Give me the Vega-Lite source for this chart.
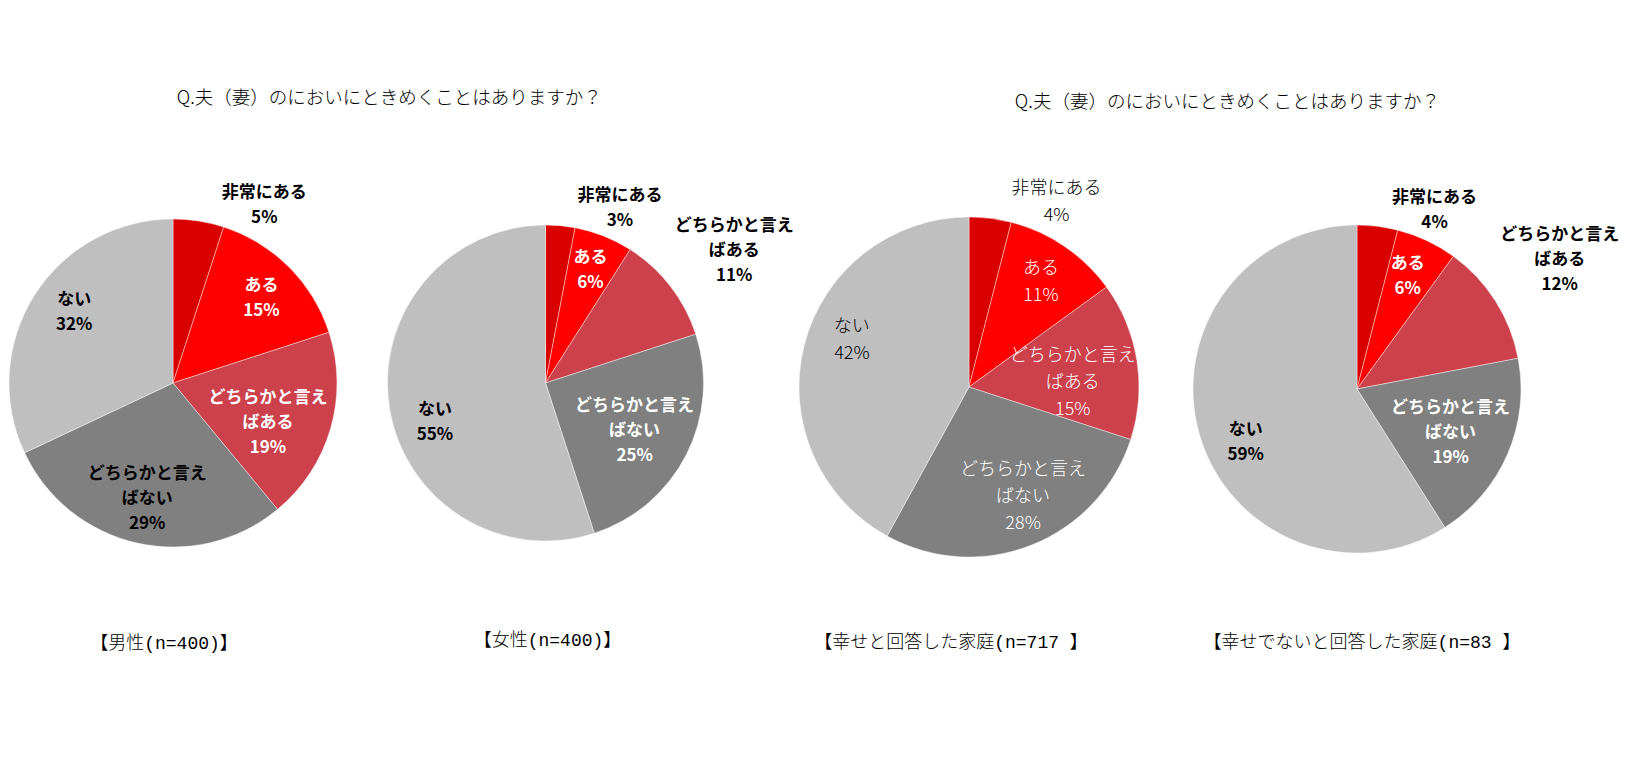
{
  "$schema": "https://vega.github.io/schema/vega-lite/v6.json",
  "padding": {"left": 3, "top": 89, "right": 0, "bottom": 0},
  "background": "#ffffff",
  "config": {
    "view": {"stroke": null},
    "font": "Noto Sans CJK JP",
    "title": {"font": "Noto Sans CJK JP", "fontWeight": 300, "color": "#000000"},
    "text": {"font": "Noto Sans CJK JP"}
  },
  "datasets": {
    "d": [
      {"g": "男性", "c": "非常にある", "k": 1, "v": 5},
      {"g": "男性", "c": "ある", "k": 2, "v": 15},
      {"g": "男性", "c": "どちらかと言えばある", "k": 3, "v": 19},
      {"g": "男性", "c": "どちらかと言えばない", "k": 4, "v": 29},
      {"g": "男性", "c": "ない", "k": 5, "v": 32},
      {"g": "女性", "c": "非常にある", "k": 1, "v": 3},
      {"g": "女性", "c": "ある", "k": 2, "v": 6},
      {"g": "女性", "c": "どちらかと言えばある", "k": 3, "v": 11},
      {"g": "女性", "c": "どちらかと言えばない", "k": 4, "v": 25},
      {"g": "女性", "c": "ない", "k": 5, "v": 55},
      {"g": "幸せ", "c": "非常にある", "k": 1, "v": 4},
      {"g": "幸せ", "c": "ある", "k": 2, "v": 11},
      {"g": "幸せ", "c": "どちらかと言えばある", "k": 3, "v": 15},
      {"g": "幸せ", "c": "どちらかと言えばない", "k": 4, "v": 28},
      {"g": "幸せ", "c": "ない", "k": 5, "v": 42},
      {"g": "幸せでない", "c": "非常にある", "k": 1, "v": 4},
      {"g": "幸せでない", "c": "ある", "k": 2, "v": 6},
      {"g": "幸せでない", "c": "どちらかと言えばある", "k": 3, "v": 12},
      {"g": "幸せでない", "c": "どちらかと言えばない", "k": 4, "v": 19},
      {"g": "幸せでない", "c": "ない", "k": 5, "v": 59}
    ]
  },
  "bounds": "full",
  "spacing": 3,
  "hconcat": [
    {
      "title": {"text": "Q.夫（妻）のにおいにときめくことはありますか？", "fontSize": 18.5, "anchor": "middle", "dx": -9, "offset": 26},
      "bounds": "flush",
      "spacing": 32.5,
      "hconcat": [
        {
          "width": 340, "height": 340,
          "data": {"name": "d"},
          "transform": [
            {"filter": "datum.g == '男性'"},
            {"calculate": "replace(datum.c, 'どちらかと言え', 'どちらかと言え\\n') + '\\n' + datum.v + '%'", "as": "lab"}
          ],
          "title": {"text": "【男性(n=400)】", "orient": "bottom", "offset": 78.5, "dx": -9, "fontSize": 18, "font": "Liberation Mono, Noto Sans CJK JP", "anchor": "middle"},
          "encoding": {
            "theta": {"field": "v", "type": "quantitative", "stack": true},
            "order": {"field": "k", "type": "quantitative"},
            "detail": {"field": "c", "type": "nominal"}
          },
          "layer": [
            {"mark": {"type": "arc", "outerRadius": 164, "stroke": "#ffffff", "strokeWidth": 0.7, "strokeOpacity": 0.6},
             "encoding": {"color": {"field": "c", "type": "nominal", "legend": null, "scale": {"domain": ["非常にある", "ある", "どちらかと言えばある", "どちらかと言えばない", "ない"], "range": ["#D90000", "#FF0000", "#CC414B", "#808080", "#BFBFBF"]}}}},
            {"mark": {"type": "text", "radius": 181, "dx": 63, "dy": -11, "fontSize": 17, "fontWeight": "bold", "lineBreak": "\n", "lineHeight": 25, "baseline": "middle", "align": "center", "color": "#000000"},
             "encoding": {"text": {"condition": {"test": "datum.c == '非常にある'", "field": "lab", "type": "nominal"}, "value": ""}}},
            {"mark": {"type": "text", "radius": 125, "dy": -9, "fontSize": 17, "fontWeight": "bold", "lineBreak": "\n", "lineHeight": 25, "baseline": "middle", "align": "center", "color": "#ffffff"},
             "encoding": {"text": {"condition": {"test": "datum.c == 'ある'", "field": "lab", "type": "nominal"}, "value": ""}}},
            {"mark": {"type": "text", "radius": 100, "dx": -1, "dy": -13, "fontSize": 17, "fontWeight": "bold", "lineBreak": "\n", "lineHeight": 25, "baseline": "middle", "align": "center", "color": "#ffffff"},
             "encoding": {"text": {"condition": {"test": "datum.c == 'どちらかと言えばある'", "field": "lab", "type": "nominal"}, "value": ""}}},
            {"mark": {"type": "text", "radius": 118, "dy": -24, "fontSize": 17, "fontWeight": "bold", "lineBreak": "\n", "lineHeight": 25, "baseline": "middle", "align": "center", "color": "#000000"},
             "encoding": {"text": {"condition": {"test": "datum.c == 'どちらかと言えばない'", "field": "lab", "type": "nominal"}, "value": ""}}},
            {"mark": {"type": "text", "radius": 123, "dx": 5, "dy": -17, "fontSize": 17, "fontWeight": "bold", "lineBreak": "\n", "lineHeight": 25, "baseline": "middle", "align": "center", "color": "#000000"},
             "encoding": {"text": {"condition": {"test": "datum.c == 'ない'", "field": "lab", "type": "nominal"}, "value": ""}}}
          ]
        },
        {
          "width": 340, "height": 340,
          "data": {"name": "d"},
          "transform": [
            {"filter": "datum.g == '女性'"},
            {"calculate": "replace(datum.c, 'どちらかと言え', 'どちらかと言え\\n') + '\\n' + datum.v + '%'", "as": "lab"}
          ],
          "title": {"text": "【女性(n=400)】", "orient": "bottom", "offset": 78.5, "dx": 2, "fontSize": 18, "font": "Liberation Mono, Noto Sans CJK JP", "anchor": "middle"},
          "encoding": {
            "theta": {"field": "v", "type": "quantitative", "stack": true},
            "order": {"field": "k", "type": "quantitative"},
            "detail": {"field": "c", "type": "nominal"}
          },
          "layer": [
            {"mark": {"type": "arc", "outerRadius": 158, "stroke": "#ffffff", "strokeWidth": 0.7, "strokeOpacity": 0.6},
             "encoding": {"color": {"field": "c", "type": "nominal", "legend": null, "scale": {"domain": ["非常にある", "ある", "どちらかと言えばある", "どちらかと言えばない", "ない"], "range": ["#D90000", "#FF0000", "#CC414B", "#808080", "#BFBFBF"]}}}},
            {"mark": {"type": "text", "radius": 175, "dx": 58, "dy": -12.5, "fontSize": 17, "fontWeight": "bold", "lineBreak": "\n", "lineHeight": 25, "baseline": "middle", "align": "center", "color": "#000000"},
             "encoding": {"text": {"condition": {"test": "datum.c == '非常にある'", "field": "lab", "type": "nominal"}, "value": ""}}},
            {"mark": {"type": "text", "radius": 122, "dy": -11.5, "fontSize": 17, "fontWeight": "bold", "lineBreak": "\n", "lineHeight": 25, "baseline": "middle", "align": "center", "color": "#ffffff"},
             "encoding": {"text": {"condition": {"test": "datum.c == 'ある'", "field": "lab", "type": "nominal"}, "value": ""}}},
            {"mark": {"type": "text", "radius": 216, "dx": 18, "dy": -25, "fontSize": 17, "fontWeight": "bold", "lineBreak": "\n", "lineHeight": 25, "baseline": "middle", "align": "center", "color": "#000000"},
             "encoding": {"text": {"condition": {"test": "datum.c == 'どちらかと言えばある'", "field": "lab", "type": "nominal"}, "value": ""}}},
            {"mark": {"type": "text", "radius": 100, "dy": -22, "fontSize": 17, "fontWeight": "bold", "lineBreak": "\n", "lineHeight": 25, "baseline": "middle", "align": "center", "color": "#ffffff"},
             "encoding": {"text": {"condition": {"test": "datum.c == 'どちらかと言えばない'", "field": "lab", "type": "nominal"}, "value": ""}}},
            {"mark": {"type": "text", "radius": 112, "dy": 9.5, "fontSize": 17, "fontWeight": "bold", "lineBreak": "\n", "lineHeight": 25, "baseline": "middle", "align": "center", "color": "#000000"},
             "encoding": {"text": {"condition": {"test": "datum.c == 'ない'", "field": "lab", "type": "nominal"}, "value": ""}}}
          ]
        }
      ]
    },
    {
      "title": {"text": "Q.夫（妻）のにおいにときめくことはありますか？", "fontSize": 18.5, "anchor": "middle", "dx": 19, "offset": 5},
      "bounds": "flush",
      "spacing": 48,
      "hconcat": [
        {
          "width": 340, "height": 348,
          "data": {"name": "d"},
          "transform": [
            {"filter": "datum.g == '幸せ'"},
            {"calculate": "replace(datum.c, 'どちらかと言え', 'どちらかと言え\\n') + '\\n' + datum.v + '%'", "as": "lab"}
          ],
          "title": {"text": "【幸せと回答した家庭(n=717 】", "orient": "bottom", "offset": 73, "dx": -18, "fontSize": 18, "font": "Liberation Mono, Noto Sans CJK JP", "anchor": "middle"},
          "encoding": {
            "theta": {"field": "v", "type": "quantitative", "stack": true},
            "order": {"field": "k", "type": "quantitative"},
            "detail": {"field": "c", "type": "nominal"}
          },
          "layer": [
            {"mark": {"type": "arc", "outerRadius": 170, "stroke": "#ffffff", "strokeWidth": 0.7, "strokeOpacity": 0.6},
             "encoding": {"color": {"field": "c", "type": "nominal", "legend": null, "scale": {"domain": ["非常にある", "ある", "どちらかと言えばある", "どちらかと言えばない", "ない"], "range": ["#D90000", "#FF0000", "#CC414B", "#808080", "#BFBFBF"]}}}},
            {"mark": {"type": "text", "radius": 188, "dx": 64, "dy": -11.5, "fontSize": 18, "fontWeight": 300, "lineBreak": "\n", "lineHeight": 27, "baseline": "middle", "align": "center", "color": "#000000"},
             "encoding": {"text": {"condition": {"test": "datum.c == '非常にある'", "field": "lab", "type": "nominal"}, "value": ""}}},
            {"mark": {"type": "text", "radius": 128, "dy": -12.5, "fontSize": 18, "fontWeight": 300, "lineBreak": "\n", "lineHeight": 27, "baseline": "middle", "align": "center", "color": "#ffffff"},
             "encoding": {"text": {"condition": {"test": "datum.c == 'ある'", "field": "lab", "type": "nominal"}, "value": ""}}},
            {"mark": {"type": "text", "radius": 105, "dy": -15, "fontSize": 18, "fontWeight": 300, "lineBreak": "\n", "lineHeight": 27, "baseline": "middle", "align": "center", "color": "#ffffff"},
             "encoding": {"text": {"condition": {"test": "datum.c == 'どちらかと言えばある'", "field": "lab", "type": "nominal"}, "value": ""}}},
            {"mark": {"type": "text", "radius": 117, "dx": 11, "dy": -26, "fontSize": 18, "fontWeight": 300, "lineBreak": "\n", "lineHeight": 27, "baseline": "middle", "align": "center", "color": "#ffffff"},
             "encoding": {"text": {"condition": {"test": "datum.c == 'どちらかと言えばない'", "field": "lab", "type": "nominal"}, "value": ""}}},
            {"mark": {"type": "text", "radius": 122, "dx": 1, "dy": -29.5, "fontSize": 18, "fontWeight": 300, "lineBreak": "\n", "lineHeight": 27, "baseline": "middle", "align": "center", "color": "#000000"},
             "encoding": {"text": {"condition": {"test": "datum.c == 'ない'", "field": "lab", "type": "nominal"}, "value": ""}}}
          ]
        },
        {
          "width": 340, "height": 352,
          "data": {"name": "d"},
          "transform": [
            {"filter": "datum.g == '幸せでない'"},
            {"calculate": "replace(datum.c, 'どちらかと言え', 'どちらかと言え\\n') + '\\n' + datum.v + '%'", "as": "lab"}
          ],
          "title": {"text": "【幸せでないと回答した家庭(n=83 】", "orient": "bottom", "offset": 69, "dx": 5, "fontSize": 18, "font": "Liberation Mono, Noto Sans CJK JP", "anchor": "middle"},
          "encoding": {
            "theta": {"field": "v", "type": "quantitative", "stack": true},
            "order": {"field": "k", "type": "quantitative"},
            "detail": {"field": "c", "type": "nominal"}
          },
          "layer": [
            {"mark": {"type": "arc", "outerRadius": 164, "stroke": "#ffffff", "strokeWidth": 0.7, "strokeOpacity": 0.6},
             "encoding": {"color": {"field": "c", "type": "nominal", "legend": null, "scale": {"domain": ["非常にある", "ある", "どちらかと言えばある", "どちらかと言えばない", "ない"], "range": ["#D90000", "#FF0000", "#CC414B", "#808080", "#BFBFBF"]}}}},
            {"mark": {"type": "text", "radius": 180, "dx": 55, "dy": -12.5, "fontSize": 17, "fontWeight": "bold", "lineBreak": "\n", "lineHeight": 25, "baseline": "middle", "align": "center", "color": "#000000"},
             "encoding": {"text": {"condition": {"test": "datum.c == '非常にある'", "field": "lab", "type": "nominal"}, "value": ""}}},
            {"mark": {"type": "text", "radius": 124, "dx": -2, "dy": -12.5, "fontSize": 17, "fontWeight": "bold", "lineBreak": "\n", "lineHeight": 25, "baseline": "middle", "align": "center", "color": "#ffffff"},
             "encoding": {"text": {"condition": {"test": "datum.c == 'ある'", "field": "lab", "type": "nominal"}, "value": ""}}},
            {"mark": {"type": "text", "radius": 240, "dy": -25, "fontSize": 17, "fontWeight": "bold", "lineBreak": "\n", "lineHeight": 25, "baseline": "middle", "align": "center", "color": "#000000"},
             "encoding": {"text": {"condition": {"test": "datum.c == 'どちらかと言えばある'", "field": "lab", "type": "nominal"}, "value": ""}}},
            {"mark": {"type": "text", "radius": 102, "dy": -22, "fontSize": 17, "fontWeight": "bold", "lineBreak": "\n", "lineHeight": 25, "baseline": "middle", "align": "center", "color": "#ffffff"},
             "encoding": {"text": {"condition": {"test": "datum.c == 'どちらかと言えばない'", "field": "lab", "type": "nominal"}, "value": ""}}},
            {"mark": {"type": "text", "radius": 118, "dx": 2, "dy": 8.5, "fontSize": 17, "fontWeight": "bold", "lineBreak": "\n", "lineHeight": 25, "baseline": "middle", "align": "center", "color": "#000000"},
             "encoding": {"text": {"condition": {"test": "datum.c == 'ない'", "field": "lab", "type": "nominal"}, "value": ""}}}
          ]
        }
      ]
    }
  ]
}
